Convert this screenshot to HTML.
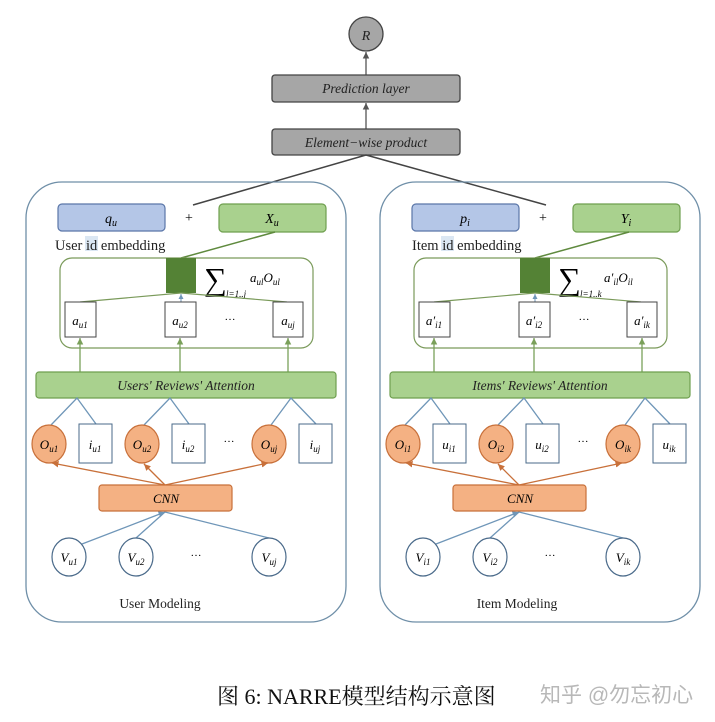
<!DOCTYPE html>
<html><head><meta charset="utf-8"><style>
body{margin:0;background:#fff;}
svg{display:block;}
.m{font-family:"Liberation Serif",serif;font-style:italic;}
.s{font-family:"Liberation Serif",serif;}
</style></head><body>
<svg width="715" height="722" viewBox="0 0 715 722" xmlns="http://www.w3.org/2000/svg">
<defs>
<marker id="ag" markerWidth="6" markerHeight="6" refX="5" refY="3" orient="auto"><path d="M0,0.5 L5,3 L0,5.5z" fill="#7aa05a"/></marker>
<marker id="ab" markerWidth="6" markerHeight="6" refX="5" refY="3" orient="auto"><path d="M0,0.5 L5,3 L0,5.5z" fill="#6f96b8"/></marker>
<marker id="ao" markerWidth="6" markerHeight="6" refX="5" refY="3" orient="auto"><path d="M0,0.5 L5,3 L0,5.5z" fill="#c8703a"/></marker>
<marker id="ak" markerWidth="6" markerHeight="6" refX="5" refY="3" orient="auto"><path d="M0,0.5 L5,3 L0,5.5z" fill="#555"/></marker>
</defs>
<!-- top -->
<circle cx="366" cy="34" r="17" fill="#a6a6a6" stroke="#444" stroke-width="1.3"/>
<text x="366" y="40" class="m" font-size="14" text-anchor="middle" fill="#222">R</text>
<line x1="366" y1="75" x2="366" y2="52" stroke="#555" stroke-width="1.3" marker-end="url(#ak)"/>
<rect x="272" y="75" width="188" height="27" rx="3" fill="#a6a6a6" stroke="#444" stroke-width="1.3"/>
<text x="366" y="93" class="m" font-size="13.5" text-anchor="middle" fill="#222">Prediction layer</text>
<line x1="366" y1="129" x2="366" y2="103" stroke="#555" stroke-width="1.3" marker-end="url(#ak)"/>
<rect x="272" y="129" width="188" height="26" rx="3" fill="#a6a6a6" stroke="#444" stroke-width="1.3"/>
<text x="366" y="147" class="m" font-size="13.5" text-anchor="middle" fill="#222">Element−wise product</text>
<line x1="366" y1="155" x2="193" y2="205" stroke="#444" stroke-width="1.5"/>
<line x1="366" y1="155" x2="546" y2="205" stroke="#444" stroke-width="1.5"/>

<!-- LEFT PANEL -->
<g>
<rect x="26" y="182" width="320" height="440" rx="36" fill="none" stroke="#6f8fa8" stroke-width="1.3"/>
<rect x="58" y="204" width="107" height="27" rx="4" fill="#b4c6e7" stroke="#5a76a8" stroke-width="1.2"/>
<text x="111" y="223" class="m" font-size="14" text-anchor="middle">q<tspan font-size="10" dy="3">u</tspan></text>
<text x="189" y="222" class="s" font-size="14" text-anchor="middle">+</text>
<rect x="219" y="204" width="107" height="28" rx="4" fill="#a9d18e" stroke="#6f9f4f" stroke-width="1.2"/>
<text x="272" y="223" class="m" font-size="14" text-anchor="middle">X<tspan font-size="10" dy="3">u</tspan></text>
<rect x="85" y="236" width="13" height="15" fill="#dbe7f3"/>
<text x="55" y="250" class="s" font-size="14.5" fill="#222">User id embedding</text>
<line x1="181" y1="258" x2="275" y2="232" stroke="#5f8a3e" stroke-width="1.5"/>
<rect x="60" y="258" width="253" height="90" rx="12" fill="none" stroke="#7a9a5a" stroke-width="1.2"/>
<rect x="166" y="258" width="30" height="35" fill="#548235"/>
<text x="204" y="290" class="s" font-size="32">∑</text>
<text x="226" y="297" class="m" font-size="9">l=1..j</text>
<text x="250" y="282" class="m" font-size="13">a<tspan font-size="9" dy="3">ul</tspan><tspan dy="-3">O</tspan><tspan font-size="9" dy="3">ul</tspan></text>
<line x1="80" y1="302" x2="181" y2="293" stroke="#7a9a5a" stroke-width="1.2"/>
<line x1="287" y1="302" x2="181" y2="293" stroke="#7a9a5a" stroke-width="1.2"/>
<line x1="181" y1="302" x2="181" y2="294" stroke="#6f96b8" stroke-width="1" marker-end="url(#ab)"/>
<rect x="65" y="302" width="31" height="35" fill="#fff" stroke="#444" stroke-width="1"/>
<text x="80" y="325" class="m" font-size="13" text-anchor="middle">a<tspan font-size="9" dy="3">u1</tspan></text>
<rect x="165" y="302" width="31" height="35" fill="#fff" stroke="#444" stroke-width="1"/>
<text x="180" y="325" class="m" font-size="13" text-anchor="middle">a<tspan font-size="9" dy="3">u2</tspan></text>
<text x="230" y="320" class="s" font-size="11" text-anchor="middle">…</text>
<rect x="273" y="302" width="30" height="35" fill="#fff" stroke="#444" stroke-width="1"/>
<text x="288" y="325" class="m" font-size="13" text-anchor="middle">a<tspan font-size="9" dy="3">uj</tspan></text>
<line x1="80" y1="372" x2="80" y2="338" stroke="#7aa05a" stroke-width="1.3" marker-end="url(#ag)"/>
<line x1="180" y1="372" x2="180" y2="338" stroke="#7aa05a" stroke-width="1.3" marker-end="url(#ag)"/>
<line x1="288" y1="372" x2="288" y2="338" stroke="#7aa05a" stroke-width="1.3" marker-end="url(#ag)"/>
<rect x="36" y="372" width="300" height="26" rx="3" fill="#a9d18e" stroke="#6f9f4f" stroke-width="1.2"/>
<text x="186" y="390" class="m" font-size="13.5" text-anchor="middle" fill="#222">Users' Reviews' Attention</text>
<g stroke="#6f96b8" stroke-width="1.3" fill="none">
<path d="M51,425 L77,398 L96,424"/><path d="M144,425 L170,398 L189,424"/><path d="M271,425 L291,398 L316,424"/>
<line x1="165" y1="485" x2="52" y2="463" stroke="#c8703a" marker-end="url(#ao)"/>
<line x1="165" y1="485" x2="144" y2="464" stroke="#c8703a" marker-end="url(#ao)"/>
<line x1="165" y1="485" x2="268" y2="463" stroke="#c8703a" marker-end="url(#ao)"/>
<line x1="82" y1="544" x2="165" y2="512" marker-end="url(#ab)"/>
<line x1="136" y1="538" x2="165" y2="512"/>
<line x1="269" y1="538" x2="165" y2="512"/>
</g>
<ellipse cx="49" cy="444" rx="17" ry="19" fill="#f4b183" stroke="#c8703a" stroke-width="1.2"/>
<text x="49" y="449" class="m" font-size="13" text-anchor="middle">O<tspan font-size="9" dy="3">u1</tspan></text>
<rect x="79" y="424" width="33" height="39" fill="#fff" stroke="#4a6a8a" stroke-width="1"/>
<text x="95" y="449" class="m" font-size="13" text-anchor="middle">i<tspan font-size="9" dy="3">u1</tspan></text>
<ellipse cx="142" cy="444" rx="17" ry="19" fill="#f4b183" stroke="#c8703a" stroke-width="1.2"/>
<text x="142" y="449" class="m" font-size="13" text-anchor="middle">O<tspan font-size="9" dy="3">u2</tspan></text>
<rect x="172" y="424" width="33" height="39" fill="#fff" stroke="#4a6a8a" stroke-width="1"/>
<text x="188" y="449" class="m" font-size="13" text-anchor="middle">i<tspan font-size="9" dy="3">u2</tspan></text>
<text x="229" y="442" class="s" font-size="11" text-anchor="middle">…</text>
<ellipse cx="269" cy="444" rx="17" ry="19" fill="#f4b183" stroke="#c8703a" stroke-width="1.2"/>
<text x="269" y="449" class="m" font-size="13" text-anchor="middle">O<tspan font-size="9" dy="3">uj</tspan></text>
<rect x="299" y="424" width="33" height="39" fill="#fff" stroke="#4a6a8a" stroke-width="1"/>
<text x="315" y="449" class="m" font-size="13" text-anchor="middle">i<tspan font-size="9" dy="3">uj</tspan></text>
<rect x="99" y="485" width="133" height="26" rx="3" fill="#f4b183" stroke="#c8703a" stroke-width="1.2"/>
<text x="166" y="503" class="m" font-size="13" text-anchor="middle">CNN</text>
<ellipse cx="69" cy="557" rx="17" ry="19" fill="#fff" stroke="#4a6a8a" stroke-width="1.2"/>
<text x="69" y="562" class="m" font-size="13" text-anchor="middle">V<tspan font-size="9" dy="3">u1</tspan></text>
<ellipse cx="136" cy="557" rx="17" ry="19" fill="#fff" stroke="#4a6a8a" stroke-width="1.2"/>
<text x="136" y="562" class="m" font-size="13" text-anchor="middle">V<tspan font-size="9" dy="3">u2</tspan></text>
<text x="196" y="556" class="s" font-size="11" text-anchor="middle">…</text>
<ellipse cx="269" cy="557" rx="17" ry="19" fill="#fff" stroke="#4a6a8a" stroke-width="1.2"/>
<text x="269" y="562" class="m" font-size="13" text-anchor="middle">V<tspan font-size="9" dy="3">uj</tspan></text>
<text x="160" y="608" class="s" font-size="13.5" text-anchor="middle" fill="#222">User Modeling</text>
</g>

<!-- RIGHT PANEL -->
<g transform="translate(354,0)">
<rect x="26" y="182" width="320" height="440" rx="36" fill="none" stroke="#6f8fa8" stroke-width="1.3"/>
<rect x="58" y="204" width="107" height="27" rx="4" fill="#b4c6e7" stroke="#5a76a8" stroke-width="1.2"/>
<text x="111" y="223" class="m" font-size="14" text-anchor="middle">p<tspan font-size="10" dy="3">i</tspan></text>
<text x="189" y="222" class="s" font-size="14" text-anchor="middle">+</text>
<rect x="219" y="204" width="107" height="28" rx="4" fill="#a9d18e" stroke="#6f9f4f" stroke-width="1.2"/>
<text x="272" y="223" class="m" font-size="14" text-anchor="middle">Y<tspan font-size="10" dy="3">i</tspan></text>
<rect x="87" y="236" width="13" height="15" fill="#dbe7f3"/>
<text x="58" y="250" class="s" font-size="14.5" fill="#222">Item id embedding</text>
<line x1="181" y1="258" x2="275" y2="232" stroke="#5f8a3e" stroke-width="1.5"/>
<rect x="60" y="258" width="253" height="90" rx="12" fill="none" stroke="#7a9a5a" stroke-width="1.2"/>
<rect x="166" y="258" width="30" height="35" fill="#548235"/>
<text x="204" y="290" class="s" font-size="32">∑</text>
<text x="226" y="297" class="m" font-size="9">l=1..k</text>
<text x="250" y="282" class="m" font-size="13">a′<tspan font-size="9" dy="3">il</tspan><tspan dy="-3">O</tspan><tspan font-size="9" dy="3">il</tspan></text>
<line x1="80" y1="302" x2="181" y2="293" stroke="#7a9a5a" stroke-width="1.2"/>
<line x1="287" y1="302" x2="181" y2="293" stroke="#7a9a5a" stroke-width="1.2"/>
<line x1="181" y1="302" x2="181" y2="294" stroke="#6f96b8" stroke-width="1" marker-end="url(#ab)"/>
<rect x="65" y="302" width="31" height="35" fill="#fff" stroke="#444" stroke-width="1"/>
<text x="80" y="325" class="m" font-size="13" text-anchor="middle">a′<tspan font-size="9" dy="3">i1</tspan></text>
<rect x="165" y="302" width="31" height="35" fill="#fff" stroke="#444" stroke-width="1"/>
<text x="180" y="325" class="m" font-size="13" text-anchor="middle">a′<tspan font-size="9" dy="3">i2</tspan></text>
<text x="230" y="320" class="s" font-size="11" text-anchor="middle">…</text>
<rect x="273" y="302" width="30" height="35" fill="#fff" stroke="#444" stroke-width="1"/>
<text x="288" y="325" class="m" font-size="13" text-anchor="middle">a′<tspan font-size="9" dy="3">ik</tspan></text>
<line x1="80" y1="372" x2="80" y2="338" stroke="#7aa05a" stroke-width="1.3" marker-end="url(#ag)"/>
<line x1="180" y1="372" x2="180" y2="338" stroke="#7aa05a" stroke-width="1.3" marker-end="url(#ag)"/>
<line x1="288" y1="372" x2="288" y2="338" stroke="#7aa05a" stroke-width="1.3" marker-end="url(#ag)"/>
<rect x="36" y="372" width="300" height="26" rx="3" fill="#a9d18e" stroke="#6f9f4f" stroke-width="1.2"/>
<text x="186" y="390" class="m" font-size="13.5" text-anchor="middle" fill="#222">Items' Reviews' Attention</text>
<g stroke="#6f96b8" stroke-width="1.3" fill="none">
<path d="M51,425 L77,398 L96,424"/><path d="M144,425 L170,398 L189,424"/><path d="M271,425 L291,398 L316,424"/>
<line x1="165" y1="485" x2="52" y2="463" stroke="#c8703a" marker-end="url(#ao)"/>
<line x1="165" y1="485" x2="144" y2="464" stroke="#c8703a" marker-end="url(#ao)"/>
<line x1="165" y1="485" x2="268" y2="463" stroke="#c8703a" marker-end="url(#ao)"/>
<line x1="82" y1="544" x2="165" y2="512" marker-end="url(#ab)"/>
<line x1="136" y1="538" x2="165" y2="512"/>
<line x1="269" y1="538" x2="165" y2="512"/>
</g>
<ellipse cx="49" cy="444" rx="17" ry="19" fill="#f4b183" stroke="#c8703a" stroke-width="1.2"/>
<text x="49" y="449" class="m" font-size="13" text-anchor="middle">O<tspan font-size="9" dy="3">i1</tspan></text>
<rect x="79" y="424" width="33" height="39" fill="#fff" stroke="#4a6a8a" stroke-width="1"/>
<text x="95" y="449" class="m" font-size="13" text-anchor="middle">u<tspan font-size="9" dy="3">i1</tspan></text>
<ellipse cx="142" cy="444" rx="17" ry="19" fill="#f4b183" stroke="#c8703a" stroke-width="1.2"/>
<text x="142" y="449" class="m" font-size="13" text-anchor="middle">O<tspan font-size="9" dy="3">i2</tspan></text>
<rect x="172" y="424" width="33" height="39" fill="#fff" stroke="#4a6a8a" stroke-width="1"/>
<text x="188" y="449" class="m" font-size="13" text-anchor="middle">u<tspan font-size="9" dy="3">i2</tspan></text>
<text x="229" y="442" class="s" font-size="11" text-anchor="middle">…</text>
<ellipse cx="269" cy="444" rx="17" ry="19" fill="#f4b183" stroke="#c8703a" stroke-width="1.2"/>
<text x="269" y="449" class="m" font-size="13" text-anchor="middle">O<tspan font-size="9" dy="3">ik</tspan></text>
<rect x="299" y="424" width="33" height="39" fill="#fff" stroke="#4a6a8a" stroke-width="1"/>
<text x="315" y="449" class="m" font-size="13" text-anchor="middle">u<tspan font-size="9" dy="3">ik</tspan></text>
<rect x="99" y="485" width="133" height="26" rx="3" fill="#f4b183" stroke="#c8703a" stroke-width="1.2"/>
<text x="166" y="503" class="m" font-size="13" text-anchor="middle">CNN</text>
<ellipse cx="69" cy="557" rx="17" ry="19" fill="#fff" stroke="#4a6a8a" stroke-width="1.2"/>
<text x="69" y="562" class="m" font-size="13" text-anchor="middle">V<tspan font-size="9" dy="3">i1</tspan></text>
<ellipse cx="136" cy="557" rx="17" ry="19" fill="#fff" stroke="#4a6a8a" stroke-width="1.2"/>
<text x="136" y="562" class="m" font-size="13" text-anchor="middle">V<tspan font-size="9" dy="3">i2</tspan></text>
<text x="196" y="556" class="s" font-size="11" text-anchor="middle">…</text>
<ellipse cx="269" cy="557" rx="17" ry="19" fill="#fff" stroke="#4a6a8a" stroke-width="1.2"/>
<text x="269" y="562" class="m" font-size="13" text-anchor="middle">V<tspan font-size="9" dy="3">ik</tspan></text>
<text x="163" y="608" class="s" font-size="13.5" text-anchor="middle" fill="#222">Item Modeling</text>
</g>

<!-- caption -->
<text x="217" y="704" font-family="'Liberation Serif','Noto Serif CJK SC',serif" font-size="22" fill="#111">图 6: NARRE模型结构示意图</text>
<text x="540" y="702" font-family="'Liberation Sans','Noto Sans CJK SC',sans-serif" font-size="21" fill="#b8b8b8">知乎 @勿忘初心</text>
</svg>
</body></html>
